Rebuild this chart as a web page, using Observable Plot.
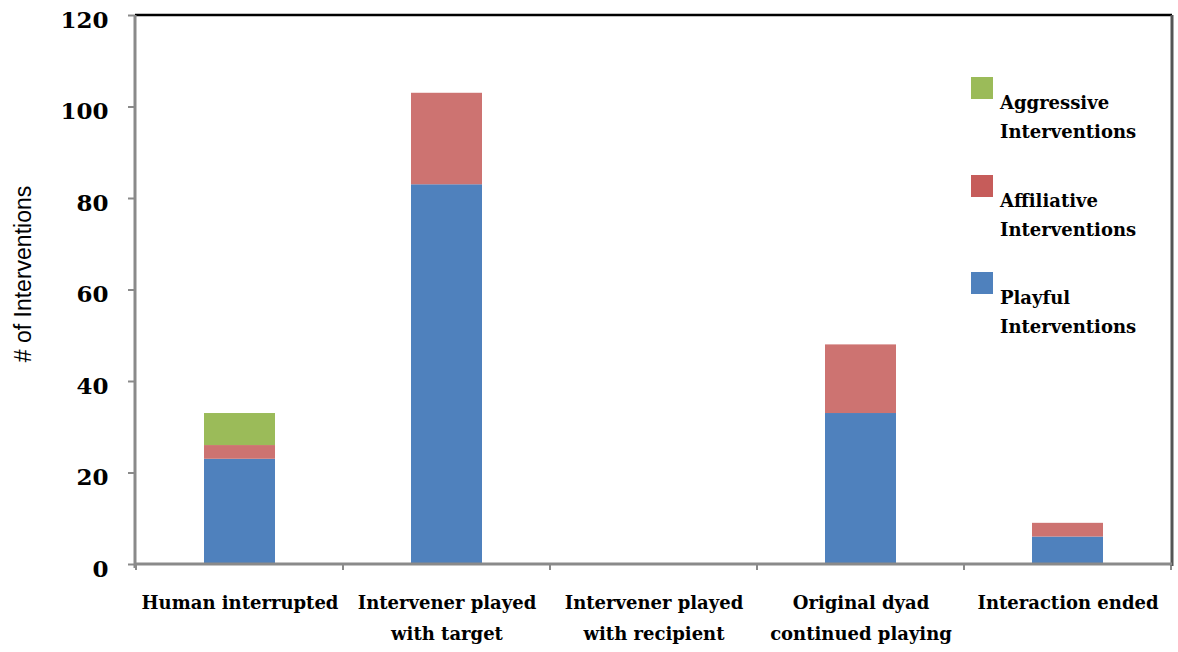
<!DOCTYPE html>
<html><head><meta charset="utf-8">
<script src="https://cdn.jsdelivr.net/npm/d3@7"></script>
<script src="https://cdn.jsdelivr.net/npm/@observablehq/plot@0.6"></script>
<style>
body{margin:0;background:#fff;}
#wrap{position:relative;width:1178px;height:652px;overflow:hidden;}
.leg{position:absolute;left:971px;font-family:"DejaVu Serif",serif;font-weight:bold;font-size:18px;line-height:29px;color:#000;}
.leg .sw{position:absolute;left:0;top:0;width:22px;height:22px;}
.leg .tx{position:absolute;left:29px;top:11px;white-space:nowrap;}
</style></head><body><div id="wrap"></div>
<script>
const categories = ["Human interrupted","Intervener played with target","Intervener played with recipient","Original dyad continued playing","Interaction ended"];
const categoryLabels = ["Human interrupted","Intervener played\nwith target","Intervener played\nwith recipient","Original dyad\ncontinued playing","Interaction ended"];
const series = ["Playful Interventions","Affiliative Interventions","Aggressive Interventions"];
const legendNames = [["Playful","Interventions"],["Affiliative","Interventions"],["Aggressive","Interventions"]];
const playful = [23,83,0,33,6];
const affiliative = [3,20,0,15,3];
const aggressive = [7,0,0,0,0];
const yTicks = [0,20,40,60,80,100,120];
const colors = ["#4F81BD","#CD7371","#9BBB59"];
const legendColors = ["#4F81BD","#C65C5A","#9BBB59"];

const values = [playful, affiliative, aggressive];
const data = [];
categories.forEach((c, i) => series.forEach((s, j) => {
  if (values[j][i] > 0) data.push({category: c, series: s, value: values[j][i]});
}));
const labelOf = new Map(categories.map((c, i) => [c, categoryLabels[i]]));

const W = 1178, H = 652, ML = 135, MR = 6, MT = 15, MB = 88;
const plot = Plot.plot({
  width: W, height: H,
  marginLeft: ML, marginRight: MR, marginTop: MT, marginBottom: MB,
  style: {background: "white", overflow: "visible"},
  x: {domain: categories, padding: 0, axis: null},
  y: {domain: [0, 120], axis: null},
  color: {domain: series, range: colors},
  marks: [
    Plot.barY(data, {x: "category", y: "value", fill: "series", insetLeft: 68, insetRight: 68}),
    Plot.axisY({ticks: yTicks, tickSize: 7, tickFormat: () => "", stroke: "#8a8a8a", strokeWidth: 2, label: null}),
    Plot.axisY({ticks: yTicks, tickSize: 0, tickPadding: 27, fill: "black",
      fontFamily: "DejaVu Serif", fontWeight: "bold", fontSize: 23, dy: 5, label: null}),
    Plot.axisX({tickSize: 0, tickPadding: 23, tickFormat: d => labelOf.get(d), fill: "black",
      fontFamily: "DejaVu Serif", fontWeight: "bold", fontSize: 18, lineHeight: 1.7, label: null}),
    Plot.text(["# of Interventions"], {frameAnchor: "left", textAnchor: "middle", rotate: -90, dx: -112, dy: -16,
      fontFamily: "Liberation Sans", fontSize: 23, fill: "black"})
  ]
});

// chart furniture: axis lines / plot border and category-boundary ticks
const svg = d3.select(plot);
const xs = plot.scale("x"), ys = plot.scale("y");
const y0 = ys.apply(0), yTop = ys.apply(120);
const xL = ML, xR = W - MR;
const g = svg.append("g");
const bounds = categories.map(c => xs.apply(c)).concat([xs.apply(categories[categories.length - 1]) + xs.bandwidth]);
bounds.forEach(b => g.append("line").attr("x1", b).attr("x2", b).attr("y1", y0).attr("y2", y0 + 6)
  .attr("stroke", "#8a8a8a").attr("stroke-width", 2));
g.append("line").attr("x1", xL).attr("x2", xR).attr("y1", yTop).attr("y2", yTop).attr("stroke", "#000").attr("stroke-width", 2.5);
g.append("line").attr("x1", xR).attr("x2", xR).attr("y1", yTop).attr("y2", y0 + 2).attr("stroke", "#555").attr("stroke-width", 3);
g.append("line").attr("x1", xL).attr("x2", xR).attr("y1", y0).attr("y2", y0).attr("stroke", "#8a8a8a").attr("stroke-width", 3);
g.append("line").attr("x1", xL).attr("x2", xL).attr("y1", yTop).attr("y2", y0 + 4).attr("stroke", "#8a8a8a").attr("stroke-width", 3);

const wrap = document.getElementById("wrap");
wrap.appendChild(plot);

// legend (inside plot area, top-right), Aggressive on top
const legendTops = [272, 175, 77];
series.forEach((s, j) => {
  const d = document.createElement("div");
  d.className = "leg";
  d.style.top = legendTops[j] + "px";
  d.innerHTML = `<div class="sw" style="background:${legendColors[j]}"></div><div class="tx">${legendNames[j][0]}<br>${legendNames[j][1]}</div>`;
  wrap.appendChild(d);
});
</script></body></html>
